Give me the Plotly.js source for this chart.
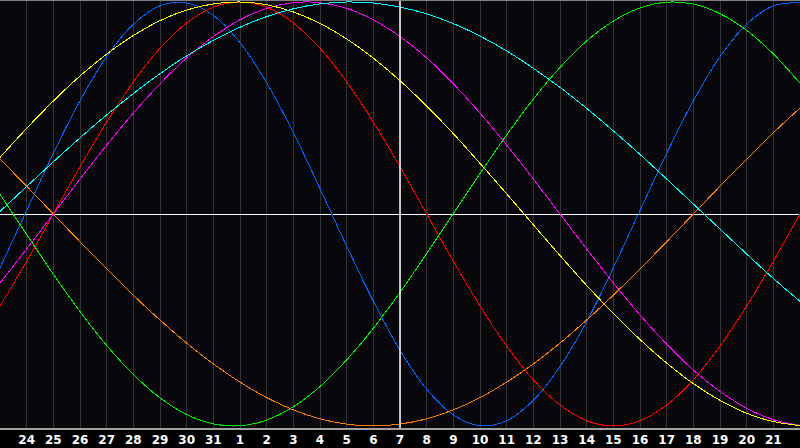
<!DOCTYPE html>
<html>
<head>
<meta charset="utf-8">
<script src="https://cdn.plot.ly/plotly-3.0.1.min.js"></script>
<style>
html,body{margin:0;padding:0;background:#000;}
#chart{width:800px;height:448px;}
#chart .scatterlayer path { shape-rendering: crispEdges !important; }
</style>
</head>
<body>
<div id="chart"></div>
<script>
// Day index 0..30 = Dec 23 .. Jan 22
const days = [0,1,2,3,4,5,6,7,8,9,10,11,12,13,14,15,16,17,18,19,20,21,22,23,24,25,26,27,28,29,30];
const dayLabels = ["23","24","25","26","27","28","29","30","31","1","2","3","4","5","6","7","8","9","10","11","12","13","14","15","16","17","18","19","20","21","22"];
const todayIndex = 15;

const physical = [-0.254,0.016,0.286,0.534,0.742,0.895,0.982,0.996,0.937,0.808,0.619,0.384,0.120,-0.152,-0.411,-0.643,-0.826,-0.948,-0.999,-0.975,-0.879,-0.720,-0.508,-0.254,0.016,0.286,0.534,0.742,0.895,0.982,0.996];
const emotional = [-0.434,-0.223,0,0.223,0.434,0.623,0.782,0.901,0.975,1.000,0.975,0.901,0.782,0.623,0.434,0.223,0,-0.223,-0.434,-0.623,-0.782,-0.901,-0.975,-1.000,-0.975,-0.901,-0.782,-0.623,-0.434,-0.223,0];
const intellectual = [0.093,-0.097,-0.284,-0.460,-0.620,-0.757,-0.867,-0.946,-0.990,-0.999,-0.972,-0.909,-0.814,-0.688,-0.539,-0.370,-0.187,0.002,0.191,0.373,0.542,0.691,0.816,0.910,0.972,0.999,0.990,0.945,0.866,0.755,0.617];
const intuitive = [-0.325,-0.165,0,0.165,0.325,0.476,0.614,0.736,0.837,0.916,0.970,0.997,0.997,0.970,0.916,0.837,0.736,0.614,0.476,0.325,0.165,0,-0.165,-0.325,-0.476,-0.614,-0.736,-0.837,-0.916,-0.970,-0.997];
const aesthetic = [0.267,0.404,0.533,0.651,0.754,0.842,0.912,0.962,0.991,1.000,0.987,0.953,0.899,0.826,0.735,0.629,0.509,0.379,0.239,0.095,-0.051,-0.196,-0.337,-0.469,-0.592,-0.703,-0.800,-0.879,-0.940,-0.979,-0.998];
const awareness = [0.259,0.131,0,-0.131,-0.259,-0.383,-0.500,-0.609,-0.707,-0.793,-0.866,-0.924,-0.966,-0.991,-1.000,-0.991,-0.966,-0.924,-0.866,-0.793,-0.707,-0.609,-0.500,-0.383,-0.259,-0.131,0,0.131,0.259,0.383,0.500];
const spiritual = [0.012,0.130,0.246,0.359,0.467,0.568,0.662,0.746,0.819,0.881,0.931,0.968,0.991,1.000,0.995,0.976,0.944,0.898,0.839,0.769,0.687,0.597,0.498,0.392,0.281,0.165,0.047,-0.071,-0.189,-0.304,-0.412];

const seriesNames = ["Physical","Emotional","Intellectual","Intuitive","Aesthetic","Awareness","Spiritual"];
const seriesData = [physical, emotional, intellectual, intuitive, aesthetic, awareness, spiritual];
const seriesColors = ["#0064ff","#ff0000","#00ee00","#ff00ff","#ffff00","#ff8000","#00ffff"];

const traces = seriesData.map((vals, i) => ({
  x: days,
  y: vals,
  type: "scatter",
  mode: "lines",
  name: seriesNames[i],
  line: {color: seriesColors[i], width: 1, shape: "spline", smoothing: 1},
  hoverinfo: "skip"
}));

const layout = {
  width: 800,
  height: 448,
  margin: {l: 0, r: 0, t: 0, b: 20, pad: 0},
  paper_bgcolor: "#000000",
  plot_bgcolor: "#08080c",
  showlegend: false,
  xaxis: {
    range: [days[0], days[days.length - 1]],
    tickvals: days.slice(1, days.length - 1),
    ticktext: dayLabels.slice(1, dayLabels.length - 1),
    showgrid: true,
    gridcolor: "#333336",
    gridwidth: 1,
    zeroline: false,
    showline: true,
    linecolor: "#a0a0a0",
    linewidth: 2,
    ticks: "",
    ticklen: 0,
    tickfont: {family: "DejaVu Sans", size: 12, color: "#ffffff", weight: "bold"},
    fixedrange: true
  },
  yaxis: {
    range: [-1.0094, 1.0094],
    showgrid: false,
    showticklabels: false,
    ticks: "",
    zeroline: true,
    zerolinecolor: "#ffffff",
    zerolinewidth: 1,
    showline: true,
    linecolor: "#808080",
    linewidth: 1,
    fixedrange: true
  },
  shapes: [
    {type: "line", xref: "x", yref: "paper", x0: todayIndex, x1: todayIndex, y0: 0, y1: 1,
     line: {color: "#ffffff", width: 1.5}, layer: "above"},
    {type: "line", xref: "paper", yref: "paper", x0: 0, x1: 1, y0: 1, y1: 1,
     line: {color: "#808080", width: 2}, layer: "above"}
  ]
};

Plotly.newPlot("chart", traces, layout, {staticPlot: true, displayModeBar: false});
</script>
</body>
</html>
